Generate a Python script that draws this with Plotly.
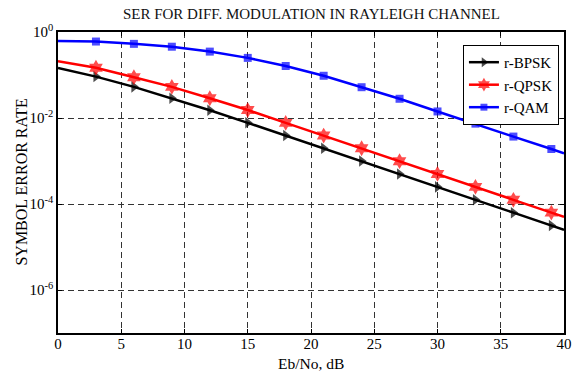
import plotly.graph_objects as go

ebno = [0, 3, 6, 9, 12, 15, 18, 21, 24, 27, 30, 33, 36, 39, 40]
ser_bpsk = [0.146, 0.0918, 0.0530, 0.0288, 0.0151, 0.00772, 0.00391, 0.00198,
            0.000995, 0.000499, 0.00025, 0.000125, 6.28e-5, 3.15e-5, 2.5e-5]
ser_qpsk = [0.21, 0.148, 0.089, 0.053, 0.0288, 0.0153, 0.0077, 0.0039,
            0.00198, 0.00099, 0.0005, 0.00025, 0.000125, 6.3e-5, 5e-5]
ser_qam = [0.62, 0.60, 0.53, 0.455, 0.35, 0.25, 0.162, 0.096,
           0.052, 0.028, 0.0142, 0.0074, 0.0037, 0.0019, 0.0015]

names = ["r-BPSK", "r-QPSK", "r-QAM"]
colors = ["#000000", "#ff0000", "#0000ff"]
symbols = ["triangle-right", "hexagram", "square"]
msizes = [10, 12, 8]

xticks = [0, 5, 10, 15, 20, 25, 30, 35, 40]
yticks = [1e0, 1e-2, 1e-4, 1e-6]
yticktext = ["10<sup>0</sup>", "10<sup>-2</sup>", "10<sup>-4</sup>", "10<sup>-6</sup>"]

FONT = "'Times New Roman', 'Liberation Serif', serif"

fig = go.Figure()
for name, ys, c, s, ms in zip(names, [ser_bpsk, ser_qpsk, ser_qam], colors, symbols, msizes):
    sizes = [0] + [ms] * (len(ebno) - 2) + [0]
    fig.add_trace(go.Scatter(
        x=ebno, y=ys, name=name, mode="lines+markers",
        line=dict(color=c, width=2.5),
        marker=dict(symbol=s, size=sizes, color=c, line=dict(width=0)),
    ))

fig.update_layout(
    width=574, height=371,
    margin=dict(l=58, r=10, t=32, b=38),
    paper_bgcolor="white", plot_bgcolor="white",
    font=dict(family=FONT, size=15, color="black"),
    title=dict(text="SER FOR DIFF. MODULATION IN RAYLEIGH CHANNEL",
               x=0.5425, xanchor="center", y=0.962, yanchor="middle",
               font=dict(family=FONT, size=15, color="#111")),
    showlegend=True,
    legend=dict(x=0.99, y=0.957, xanchor="right", yanchor="top",
                bgcolor="white", bordercolor="black", borderwidth=1,
                font=dict(family=FONT, size=15), itemwidth=30,
                tracegroupgap=0, traceorder="normal"),
    xaxis=dict(range=[0, 40], tickvals=xticks, showgrid=True, automargin=False,
               gridcolor="#333", griddash="6px,4px", gridwidth=1,
               showline=True, linecolor="black", linewidth=1.5, mirror="ticks",
               ticks="inside", ticklen=4, tickcolor="black", zeroline=False,
               ticklabelposition="outside", ticklabelstandoff=-4,
               tickfont=dict(family=FONT, size=15)),
    yaxis=dict(type="log", range=[-7, 0], tickvals=yticks, ticktext=yticktext,
               showgrid=True, gridcolor="#333", griddash="6px,4px", gridwidth=1,
               automargin=False,
               showline=True, linecolor="black", linewidth=1.5, mirror="ticks",
               ticks="inside", ticklen=4, tickcolor="black", zeroline=False,
               tickfont=dict(family=FONT, size=15)),
    annotations=[
        dict(text="Eb/No, dB", xref="paper", yref="paper", x=0.5, y=-0.1,
             xanchor="center", yanchor="middle", showarrow=False,
             font=dict(family=FONT, size=15.5)),
        dict(text="SYMBOL ERROR RATE", xref="paper", yref="paper", x=-0.073, y=0.5,
             xanchor="center", yanchor="middle", showarrow=False, textangle=-90,
             font=dict(family=FONT, size=16)),
    ],
)

fig.write_html("out.html")
